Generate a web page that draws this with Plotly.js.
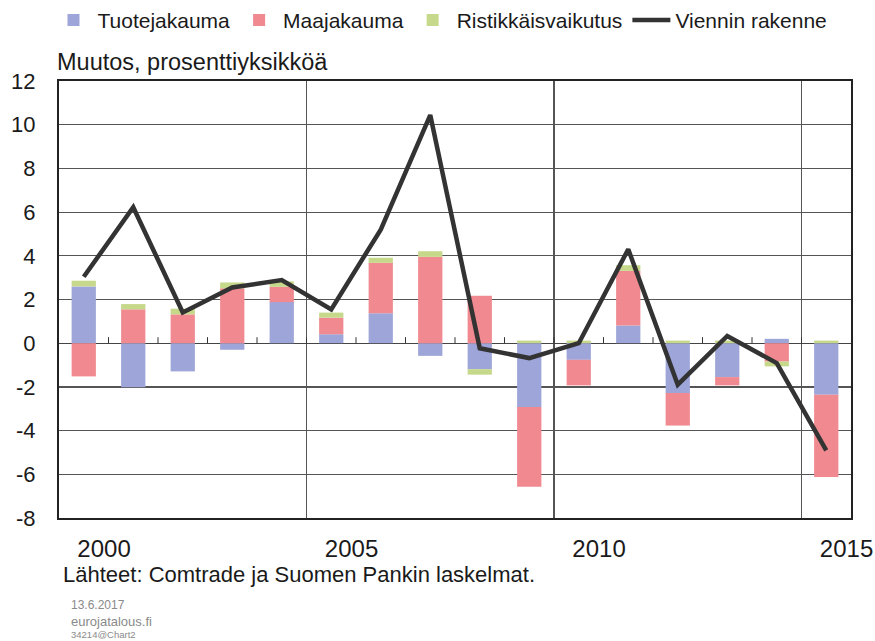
<!DOCTYPE html>
<html>
<head>
<meta charset="utf-8">
<script src="https://cdn.plot.ly/plotly-3.0.1.min.js"></script>
<style>
html, body { margin: 0; padding: 0; background: #ffffff; }
#chart { width: 875px; height: 641px; }
</style>
</head>
<body>
<div id="chart"></div>
<script>
// ---- data ----
const years = [2000, 2001, 2002, 2003, 2004, 2005, 2006, 2007, 2008, 2009, 2010, 2011, 2012, 2013, 2014, 2015];
const tuotejakauma = [2.60, -2.02, -1.29, -0.30, 1.88, 0.41, 1.37, -0.58, -1.19, -2.92, -0.76, 0.81, -2.28, -1.55, 0.20, -2.36];
const maajakauma = [-1.52, 1.55, 1.32, 2.51, 0.70, 0.76, 2.31, 3.95, 2.17, -3.65, -1.17, 2.50, -1.49, -0.38, -0.84, -3.76];
const ristikkaisvaikutus = [0.26, 0.24, 0.26, 0.27, 0.25, 0.23, 0.23, 0.26, -0.25, 0.12, 0.12, 0.26, 0.12, 0.12, -0.22, 0.12];
const viennin_rakenne = [3.04, 6.22, 1.41, 2.55, 2.89, 1.55, 5.20, 10.44, -0.23, -0.68, 0.00, 4.30, -1.90, 0.33, -0.91, -4.91];
const labelYears = [2000, 2005, 2010, 2015];
const yTicks = [12, 10, 8, 6, 4, 2, 0, -2, -4, -6, -8];

const FONT = 'Liberation Sans, Arial, sans-serif';
const TXT = '#1a1a1a';

const traces = [
  { type: 'bar', name: 'Tuotejakauma', x: years, y: tuotejakauma, width: 0.49,
    marker: { color: '#9ea5d8' }, hoverinfo: 'skip' },
  { type: 'bar', name: 'Maajakauma', x: years, y: maajakauma, width: 0.49,
    marker: { color: '#f08a90' }, hoverinfo: 'skip' },
  { type: 'bar', name: 'Ristikkäisvaikutus', x: years, y: ristikkaisvaikutus, width: 0.49,
    marker: { color: '#c6d88a' }, hoverinfo: 'skip' },
  { type: 'scatter', mode: 'lines', name: 'Viennin rakenne', x: years, y: viennin_rakenne,
    line: { color: '#333333', width: 4.5 }, hoverinfo: 'skip' }
];

const xRange = [years[0] - 0.5, years[years.length - 1] + 0.5];
const boundaries = years.slice(0, -1).map(v => v + 0.5);
const majorGrid = boundaries.filter(v => (v + 0.5) % 5 === 0);

// small category-boundary ticks standing on the zero line
const zeroTicks = boundaries.map(b => ({
  type: 'line', xref: 'x', yref: 'y', x0: b, x1: b,
  ysizemode: 'pixel', yanchor: 0, y0: 0, y1: 6,
  line: { color: '#333333', width: 1 }, layer: 'above'
}));

const layout = {
  width: 875, height: 641,
  margin: { l: 59, r: 24, t: 81, b: 123, autoexpand: false },
  paper_bgcolor: '#ffffff', plot_bgcolor: '#ffffff',
  font: { family: FONT, color: TXT, size: 21 },
  barmode: 'relative',
  showlegend: true,
  legend: {
    orientation: 'h', x: -0.012, xanchor: 'left', y: 1.139, yanchor: 'middle',
    font: { family: FONT, size: 21, color: TXT }, traceorder: 'normal',
    itemwidth: 38, bgcolor: 'rgba(0,0,0,0)'
  },
  xaxis: {
    range: xRange, type: 'linear',
    tickmode: 'array',
    tickvals: labelYears.map(v => v + 0.41),
    ticktext: labelYears.map(String),
    ticks: '', showgrid: false, zeroline: false,
    showline: true, mirror: true, linecolor: '#222222', linewidth: 2,
    tickfont: { family: FONT, size: 24, color: TXT },
    ticklabelstandoff: 8,
    minor: { tickmode: 'array', tickvals: majorGrid, showgrid: true,
             gridcolor: '#555555', gridwidth: 1.2, ticks: '' }
  },
  yaxis: {
    range: [-8, 12], tickmode: 'array', tickvals: yTicks,
    ticktext: yTicks.map(String),
    showgrid: true, gridcolor: '#555555', gridwidth: 1.2,
    zeroline: true, zerolinecolor: '#444444', zerolinewidth: 1.4,
    showline: true, mirror: true, linecolor: '#222222', linewidth: 2,
    ticks: '', tickfont: { family: FONT, size: 22, color: TXT },
    ticklabelstandoff: 17
  },
  shapes: zeroTicks,
  annotations: [
    { text: 'Muutos, prosenttiyksikköä', xref: 'paper', yref: 'paper', x: 0, y: 1,
      xanchor: 'left', yanchor: 'bottom', xshift: -4, yshift: 4, showarrow: false,
      font: { family: FONT, size: 23.5, color: TXT } },
    { text: 'Lähteet: Comtrade ja Suomen Pankin laskelmat.', xref: 'paper', yref: 'paper', x: 0, y: 0,
      xanchor: 'left', yanchor: 'top', xshift: 2, yshift: -42, showarrow: false,
      font: { family: FONT, size: 22, color: TXT } },
    { text: '13.6.2017', xref: 'paper', yref: 'paper', x: 0, y: 0,
      xanchor: 'left', yanchor: 'top', xshift: 10, yshift: -78, showarrow: false,
      font: { family: FONT, size: 12, color: '#8a8a8a' } },
    { text: 'eurojatalous.fi', xref: 'paper', yref: 'paper', x: 0, y: 0,
      xanchor: 'left', yanchor: 'top', xshift: 10, yshift: -94, showarrow: false,
      font: { family: FONT, size: 13, color: '#8a8a8a' } },
    { text: '34214@Chart2', xref: 'paper', yref: 'paper', x: 0, y: 0,
      xanchor: 'left', yanchor: 'top', xshift: 10, yshift: -109, showarrow: false,
      font: { family: FONT, size: 9.5, color: '#8a8a8a' } }
  ]
};

Plotly.newPlot('chart', traces, layout, { staticPlot: true, displayModeBar: false });
</script>
</body>
</html>
